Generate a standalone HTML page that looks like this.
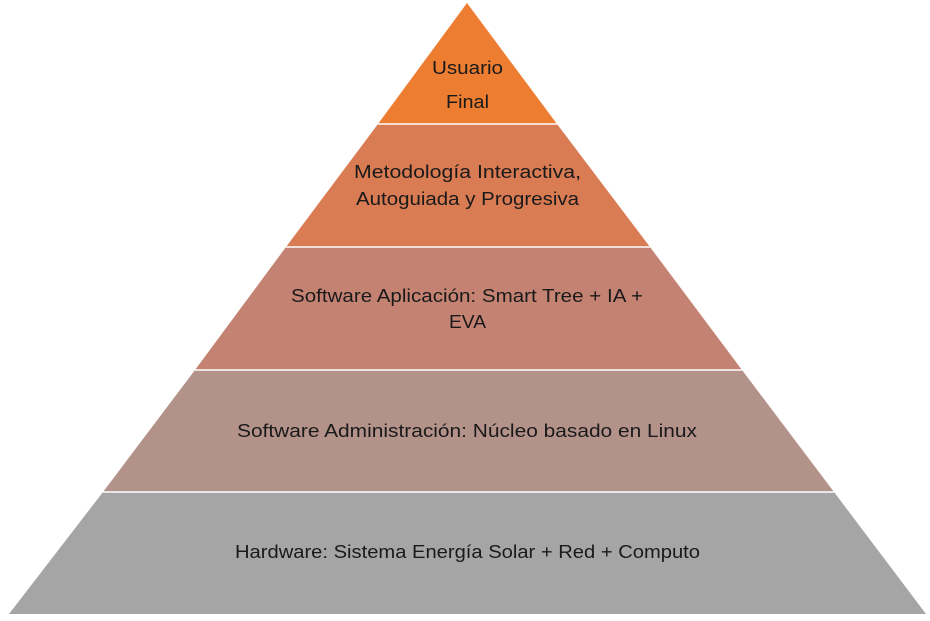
<!DOCTYPE html>
<html><head><meta charset="utf-8"><style>html,body{margin:0;padding:0;background:#fff}svg{display:block}</style></head><body>
<svg width="930" height="621" viewBox="0 0 930 621" xmlns="http://www.w3.org/2000/svg" font-family="Liberation Sans, sans-serif" font-size="18" fill="#1a1a1a">
<polygon points="467,3 557,124 378,124" fill="#ED7D31"/>
<polygon points="378,124 557,124 650,247 286,247" fill="#D97B53"/>
<polygon points="286,247 650,247 742,370 195,370" fill="#C48272"/>
<polygon points="195,370 742,370 834,492 103,492" fill="#B3928A"/>
<polygon points="103,492 834,492 926,614 9,614" fill="#A5A5A5"/>
<g stroke="#fff" stroke-width="1.5"><line x1="378" y1="124" x2="557" y2="124"/><line x1="286" y1="247" x2="650" y2="247"/><line x1="195" y1="370" x2="742" y2="370"/><line x1="103" y1="492" x2="834" y2="492"/></g>
<g fill="#1a1a1a" lengthAdjust="spacingAndGlyphs">
<text x="432" y="74" textLength="71" lengthAdjust="spacingAndGlyphs">Usuario</text>
<text x="446" y="108" textLength="43" lengthAdjust="spacingAndGlyphs">Final</text>
<text x="354" y="178" textLength="227" lengthAdjust="spacingAndGlyphs">Metodología Interactiva,</text>
<text x="356" y="205" textLength="223" lengthAdjust="spacingAndGlyphs">Autoguiada y Progresiva</text>
<text x="291" y="302" textLength="352" lengthAdjust="spacingAndGlyphs">Software Aplicación: Smart Tree + IA +</text>
<text x="449" y="328" textLength="37" lengthAdjust="spacingAndGlyphs">EVA</text>
<text x="237" y="437" textLength="460" lengthAdjust="spacingAndGlyphs">Software Administración: Núcleo basado en Linux</text>
<text x="235" y="558" textLength="465" lengthAdjust="spacingAndGlyphs">Hardware: Sistema Energía Solar + Red + Computo</text>
</g>
</svg>
</body></html>
